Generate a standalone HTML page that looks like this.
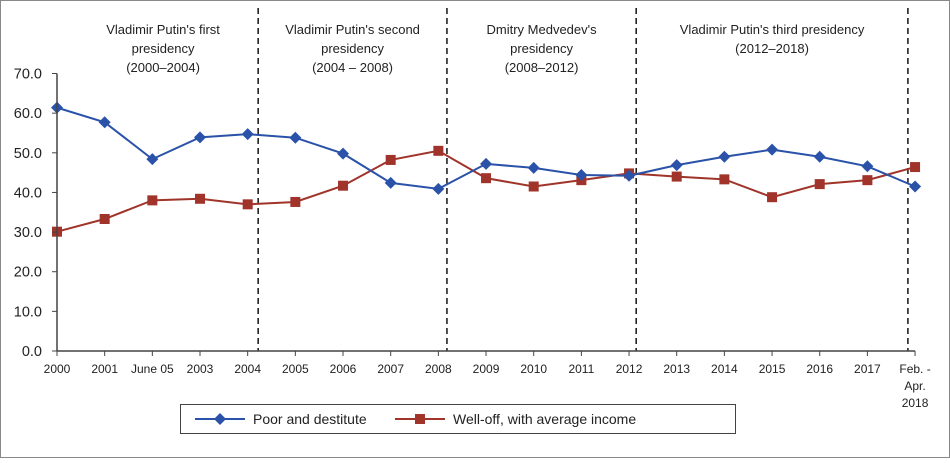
<!DOCTYPE html>
<html><head><meta charset="utf-8"><style>
html,body{margin:0;padding:0;background:#fff;}
svg text{font-family:"Liberation Sans",sans-serif;fill:#222;}
</style></head><body>
<svg id="chart" width="950" height="458" viewBox="0 0 950 458">
<rect x="0.5" y="0.5" width="949" height="457" fill="#fff" stroke="#888"/>
<g id="grid"></g>
<g id="annot"></g>
<g id="series"></g>
<g id="axes"></g>
<g>
<rect x="180.5" y="404.5" width="555" height="29" fill="#fff" stroke="#444"/>
<g>
<line x1="195" y1="419" x2="245" y2="419" stroke="#2a52a8" stroke-width="2"/>
<path d="M220 413 L226 419 L220 425 L214 419Z" fill="#2a52a8"/>
<text x="253" y="424" font-size="14">Poor and destitute</text></g>
<g>
<line x1="395" y1="419" x2="445" y2="419" stroke="#a0342a" stroke-width="2"/>
<rect x="415" y="414" width="10" height="10" fill="#a0342a"/>
<text x="453" y="424" font-size="14">Well-off, with average income</text></g>
</g>
</svg>
<script>
const categories=["2000","2001","June 05","2003","2004","2005","2006","2007","2008","2009","2010","2011","2012","2013","2014","2015","2016","2017","Feb.-Apr. 2018"];
const poor=[61.4,57.7,48.4,53.9,54.7,53.8,49.8,42.4,40.9,47.2,46.2,44.4,44.2,46.9,49.0,50.8,49.0,46.6,41.5];
const welloff=[30.1,33.3,38.0,38.4,37.0,37.6,41.7,48.2,50.5,43.6,41.5,43.1,44.8,44.0,43.3,38.8,42.1,43.1,46.4];
const yTicks=[0,10,20,30,40,50,60,70];
const presidencies=[
 {lines:["Vladimir Putin's first","presidency","(2000–2004)"],from:0,to:4.45},
 {lines:["Vladimir Putin's second","presidency","(2004 – 2008)"],from:4.22,to:8.18},
 {lines:["Dmitry Medvedev's","presidency","(2008–2012)"],from:8.18,to:12.15},
 {lines:["Vladimir Putin's third presidency","(2012–2018)"],from:12.15,to:17.85}];
const dividers=[4.22,8.18,12.15,17.85];
const NS="http://www.w3.org/2000/svg";
const x0=57,step=47.67,y0=351,yScale=3.964;
const X=i=>x0+i*step, Y=v=>y0-v*yScale;
function mk(tag,attrs,parent,txt){const e=document.createElementNS(NS,tag);for(const k in attrs)e.setAttribute(k,attrs[k]);if(txt!=null)e.textContent=txt;parent.appendChild(e);return e;}
const axes=document.getElementById('axes'),ser=document.getElementById('series'),ann=document.getElementById('annot');
let e=mk('line',{x1:x0,y1:Y(70),x2:x0,y2:y0,stroke:'#444','stroke-width':1.5},axes);


e=mk('line',{x1:x0,y1:y0,x2:X(18),y2:y0,stroke:'#444','stroke-width':1.5},axes);


yTicks.forEach(v=>{
 mk('line',{x1:x0-5,y1:Y(v),x2:x0,y2:Y(v),stroke:'#444'},axes);
 const t=mk('text',{x:x0-15,y:Y(v)+5,'font-size':14.5,'text-anchor':'end'},axes,v.toFixed(1));
 
 
});
categories.forEach((c,i)=>{
 mk('line',{x1:X(i),y1:y0,x2:X(i),y2:y0+5,stroke:'#444'},axes);
 const parts=c.startsWith('Feb')?["Feb. -","Apr.","2018"]:[c];
 parts.forEach((p,j)=>{
  const t=mk('text',{x:X(i),y:y0+22+j*17,'font-size':12,'text-anchor':'middle'},axes,p);
  
  
 });
});
dividers.forEach(d=>{
 const l=mk('line',{x1:X(d),y1:8,x2:X(d),y2:y0,stroke:'#222','stroke-width':1.6,'stroke-dasharray':'6,4'},ann);
 
 
});
presidencies.forEach(p=>{
 const cx=(X(p.from)+X(p.to))/2;
 p.lines.forEach((s,j)=>{
  const t=mk('text',{x:cx,y:34+j*19,'font-size':13,'text-anchor':'middle'},ann,s);
  
  
 });
});
function drawSeries(vals,color,shape,name){
 const g=mk('g',{},ser);
 
 
 mk('polyline',{points:vals.map((v,i)=>X(i)+','+Y(v)).join(' '),fill:'none',stroke:color,'stroke-width':2},g);
 vals.forEach((v,i)=>{
  const x=X(i),y=Y(v);let m;
  if(shape==='d')m=mk('path',{d:`M${x} ${y-6}L${x+6} ${y}L${x} ${y+6}L${x-6} ${y}Z`,fill:color},g);
  else m=mk('rect',{x:x-5,y:y-5,width:10,height:10,fill:color},g);
  
  
 });
}
drawSeries(welloff,'#a0342a','s','series-well-off');
drawSeries(poor,'#2a52a8','d','series-poor');
</script>
</body></html>
